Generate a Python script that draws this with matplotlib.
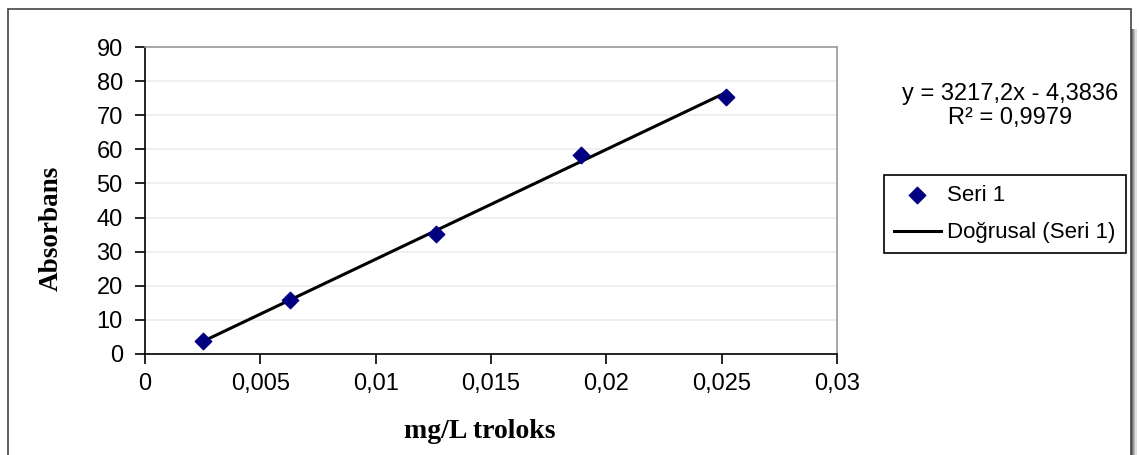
import matplotlib
matplotlib.use('Agg')
import matplotlib.pyplot as plt
from matplotlib.patches import Rectangle
import numpy as np

# data
conc = [0.0025, 0.0063, 0.0126, 0.0189, 0.0252]
absorb = [3.7, 15.8, 35.2, 58.4, 75.4]
slope = 3217.2
intercept = -4.3836
eq_text = "y = 3217,2x - 4,3836\nR² = 0,9979"

xticks = [0, 0.005, 0.01, 0.015, 0.02, 0.025, 0.03]
xlabels = ["0", "0,005", "0,01", "0,015", "0,02", "0,025", "0,03"]
yticks = [0, 10, 20, 30, 40, 50, 60, 70, 80, 90]

W, H = 1139, 455
FS = 17
plt.rcParams['font.family'] = ['Liberation Sans', 'DejaVu Sans']

fig = plt.figure(figsize=(W / 100, H / 100), dpi=100)

# outer chart frame with a little shadow on the right
for i, c in enumerate(['#555555', '#777777', '#999999', '#bbbbbb', '#dddddd']):
    fig.patches.append(Rectangle((1131 + i, -10), 1.5, 436, transform=None,
                                 facecolor=c, edgecolor='none', zorder=0))
fig.patches.append(Rectangle((8, -20), 1123, H - 9 + 20, transform=None,
                             facecolor='white', edgecolor='#444444', lw=1.2, zorder=1))

ax = fig.add_axes([145 / W, 1 - 354 / H, (837 - 145) / W, (354 - 47) / H])
ax.set_zorder(2)

ax.set_xlim(0, 0.03)
ax.set_ylim(0, 90)
ax.set_xticks(xticks)
ax.set_xticklabels(xlabels)
ax.set_yticks(yticks)
ax.tick_params(direction='out', length=7, width=1.2, labelsize=FS, colors='black')
ax.tick_params(axis='x', pad=7)
ax.tick_params(axis='y', pad=9)

for s in ['left', 'bottom']:
    ax.spines[s].set_color('black')
    ax.spines[s].set_linewidth(1.2)
for s in ['top', 'right']:
    ax.spines[s].set_color('#999999')
    ax.spines[s].set_linewidth(1.2)

ax.yaxis.grid(True, color='#ececec', lw=1.2)
ax.set_axisbelow(True)

xs = np.array([conc[0], conc[-1]])
ax.plot(xs, slope * xs + intercept, color='black', lw=2.2, label='Doğrusal (Seri 1)', zorder=3)
ax.scatter(conc, absorb, marker='D', s=70, color='#000080', label='Seri 1', zorder=4)

fig.text(480 / W, 1 - 431 / H, 'mg/L troloks', ha='center', va='center',
         family='Liberation Serif', fontweight='bold', fontsize=20)
fig.text(51 / W, 1 - 228 / H, 'Absorbans', ha='center', va='center', rotation=90,
         family='Liberation Serif', fontweight='bold', fontsize=19.5)

fig.text(1010 / W, 1 - 106 / H, eq_text, ha='center', va='center', fontsize=FS,
         linespacing=1.1)

handles, labels = ax.get_legend_handles_labels()
leg = ax.legend(handles[::-1], labels[::-1], loc='center left',
                bbox_to_anchor=(884 / W, 1 - 252 / H, (1126 - 884) / W, (252 - 176) / H),
                bbox_transform=fig.transFigure, mode='expand', borderaxespad=0,
                fancybox=False, edgecolor='black', framealpha=1, fontsize=16,
                handlelength=2.1, handletextpad=0.3, borderpad=0.45, labelspacing=0.75)
leg.get_frame().set_linewidth(1.2)

fig.savefig('out.png', dpi=100)
